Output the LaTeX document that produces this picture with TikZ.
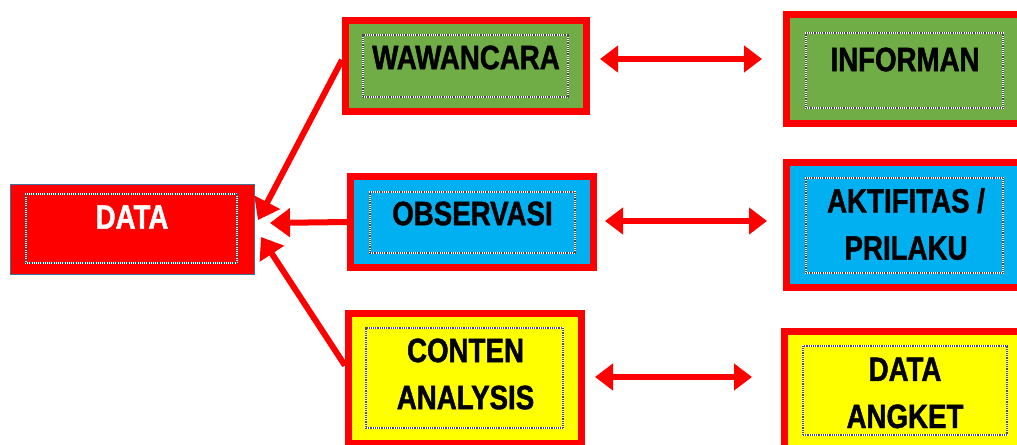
\documentclass[tikz,border=0pt]{standalone}
\usepackage{fontspec}
\setmainfont{Liberation Sans}[FakeStretch=0.82,BoldFeatures={FakeBold=1.3}]
\usepackage{tikz}
\usetikzlibrary{positioning,arrows.meta}

\definecolor{boxred}{HTML}{FF0000}
\definecolor{boxgreen}{HTML}{70AD47}
\definecolor{boxblue}{HTML}{00B0F0}
\definecolor{boxyellow}{HTML}{FFFF00}
\definecolor{edgeblue}{HTML}{41719C}

\begin{document}
\begin{tikzpicture}[x=0.025cm,y=-0.025cm,
  every node/.style={scale=1.0},
  outerbox/.style={rectangle,draw=boxred,line width=0.175cm,fill=#1,inner sep=0pt},
  databox/.style={rectangle,draw=edgeblue,line width=0.04cm,fill=boxred,inner sep=0pt},
  dotbox/.style={rectangle,draw=white,line width=0.045cm,inner sep=0pt,
    postaction={draw=black!70,dash pattern=on 0.65pt off 0.65pt}},
  txt/.style={font=\bfseries\fontsize{24}{33.5}\selectfont,align=center,inner sep=0pt},
  toarrow/.style={draw=boxred,line width=0.15cm,-{Triangle[length=0.5cm,width=0.7cm]}},
  twoway/.style={draw=boxred,line width=0.13cm,{Triangle[length=0.45cm,width=0.65cm]}-{Triangle[length=0.45cm,width=0.65cm]}},
]
\useasboundingbox (0,0) rectangle (1017,445);
\fill[white] (0,0) rectangle (1017,445);
\clip (0,0) rectangle (1017,445);

% sumber data
\node (data) [databox,minimum width=6.09cm,minimum height=2.24cm] at (132.5,229.5) {};
\node (data-in) [dotbox,minimum width=5.275cm,minimum height=1.725cm] at (131.5,228.5) {};
\node (data-txt) [txt,text=white] at (132,217) {DATA};

% teknik
\node (wawancara) [outerbox=boxgreen,minimum width=6.025cm,minimum height=2.275cm] at (466,66) {};
\node (wawancara-in) [dotbox,minimum width=5.125cm,minimum height=1.55cm] at (465.5,66) {};
\node (wawancara-txt) [txt] at (466,57.5) {WAWANCARA};

\node (observasi) [outerbox=boxblue,minimum width=6.075cm,minimum height=2.275cm] at (472,222) {};
\node (observasi-in) [dotbox,minimum width=5.125cm,minimum height=1.525cm] at (472.5,222.5) {};
\node (observasi-txt) [txt] at (472.5,213.5) {OBSERVASI};

\node (conten) [outerbox=boxyellow,minimum width=5.825cm,minimum height=3.25cm] at (465,378.5) {};
\node (conten-in) [dotbox,minimum width=4.925cm,minimum height=2.5cm] at (464.5,378) {};
\node (conten-txt) [txt] at (465.5,374) {CONTEN\\ANALYSIS};

% sumber
\node (informan) [outerbox=boxgreen,minimum width=5.9cm,minimum height=2.725cm] at (904.5,69) {};
\node (informan-in) [dotbox,minimum width=4.925cm,minimum height=1.875cm] at (904.5,70.5) {};
\node (informan-txt) [txt] at (905,59.5) {INFORMAN};

\node (aktifitas) [outerbox=boxblue,minimum width=5.9cm,minimum height=3.125cm] at (904.5,225) {};
\node (aktifitas-in) [dotbox,minimum width=4.925cm,minimum height=2.375cm] at (904.5,225.5) {};
\node (aktifitas-txt) [txt] at (906,224) {AKTIFITAS /\\PRILAKU};

\node (angket) [outerbox=boxyellow,minimum width=6.025cm,minimum height=2.95cm] at (905,390.5) {};
\node (angket-in) [dotbox,minimum width=5.1cm,minimum height=2.225cm] at (905,390.5) {};
\node (angket-txt) [txt] at (905,393) {DATA\\ANGKET};

% panah ke data
\coordinate (in-w) at (258,220);
\coordinate (in-o) at (270,223);
\coordinate (in-c) at (261,237);
\draw[toarrow] ([yshift=0.15cm]wawancara.west) to (in-w);
\draw[toarrow] (observasi.west) to (in-o);
\draw[toarrow] ([yshift=0.325cm]conten.west) to (in-c);

% panah dua arah
\coordinate (w-l) at (600,59);
\coordinate (w-r) at (762,59);
\coordinate (o-l) at (605,221);
\coordinate (o-r) at (767,221);
\coordinate (c-l) at (595,377);
\coordinate (c-r) at (752,377);
\draw[twoway] (w-l) to (w-r);
\draw[twoway] (o-l) to (o-r);
\draw[twoway] (c-l) to (c-r);
\end{tikzpicture}
\end{document}
